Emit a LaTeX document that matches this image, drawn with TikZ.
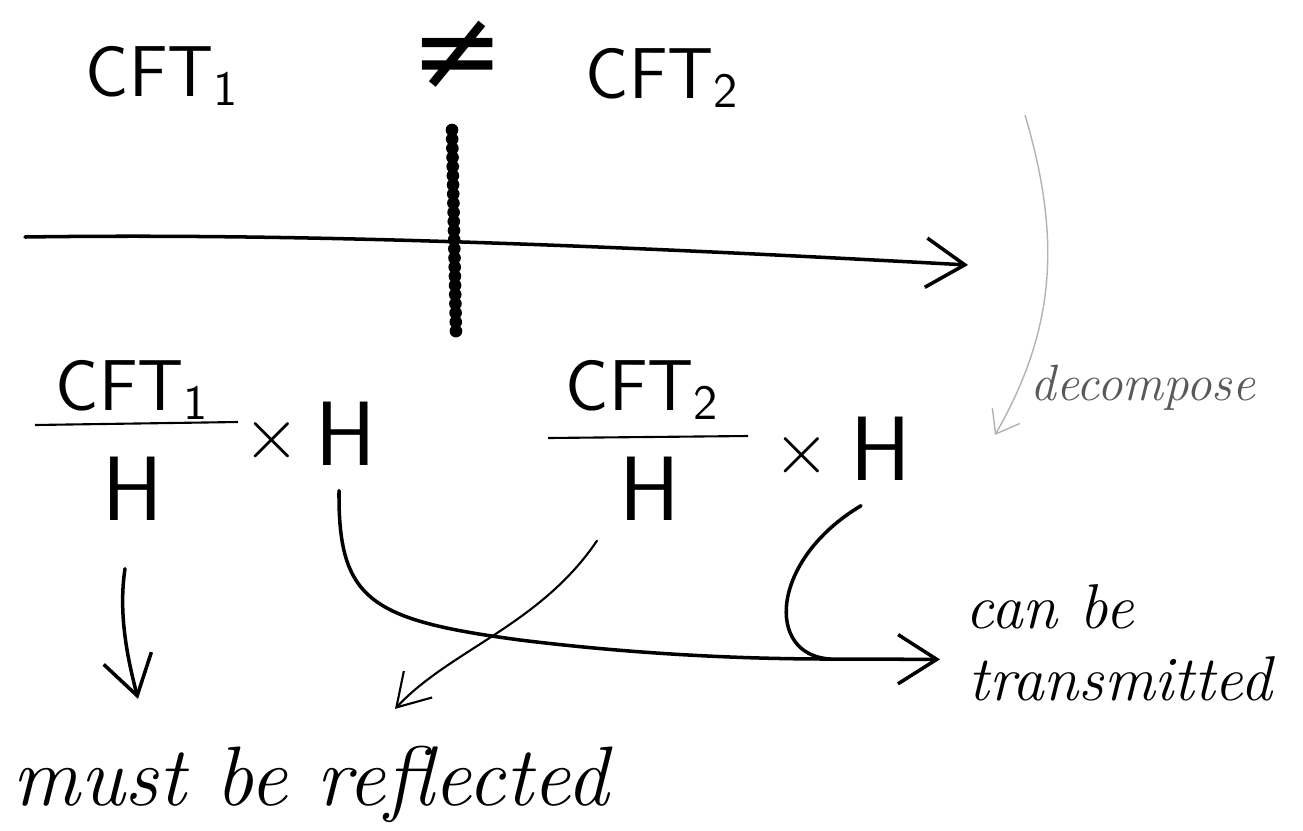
\documentclass[tikz,border=0pt]{standalone}
\usepackage{amsmath}
\usepackage{amssymb}
\usepackage{fontspec}
\usepackage[dvipsnames]{xcolor}
\usetikzlibrary{arrows.meta}

\newfontfamily\symfont{DejaVu Sans}
\newcommand{\cft}[1]{CFT\raisebox{-0.3ex}{\fontsize{14}{14}\selectfont #1}}

\begin{document}
\begin{tikzpicture}[x=0.01cm, y=-0.01cm,
        caps/.style={inner sep=0pt, font=\sffamily\fontsize{20.5}{24}\selectfont},
        bigH/.style={inner sep=0pt, font=\sffamily\fontsize{26}{30}\selectfont},
        hand/.style={inner sep=0pt, font=\itshape\fontsize{22}{26}\selectfont},
        pen/.style={line width=1pt, line cap=round},
        tip/.style={-{Straight Barb[length=11pt, width=14pt, line width=1pt]}}]
    \useasboundingbox (0, 0) rectangle (1303, 830);

    % top line: the two theories and the wall
    \node[caps, anchor=base west] (cft1) at (85, 96) {\cft{1}};
    \node[inner sep=0pt, font=\symfont\fontsize{32}{32}\selectfont] (neq) at (458, 55) {≠};
    \node[caps, anchor=base west] (cft2) at (585, 98) {\cft{2}};
    \draw[line width=3.6pt, line cap=round, dash pattern=on 0pt off 2.6pt] (452, 130) -- (456, 333);
    \draw[pen, tip] (25, 237) .. controls (300, 233) and (600, 245) .. (968, 265);

    \node[hand, font=\itshape\fontsize{14.5}{16}\selectfont, text=black!65, anchor=base west] (dec) at (1030, 400) {decompose};
    \draw[gray!60, thin, -{Straight Barb[length=6pt, width=9pt]}] (1025, 115) .. controls (1062, 240) and (1055, 330) .. (995, 435);

    % quotients times H
    \node[caps, anchor=base west] (num1) at (55, 410) {\cft{1}};
    \draw[semithick] (35, 425) -- (238, 422);
    \node[bigH, anchor=base] (den1) at (133, 520) {H};
    \node[inner sep=0pt, font=\fontsize{22}{22}\selectfont] (x1) at (272, 440) {$\times$};
    \node[bigH, anchor=base west] (h1) at (315, 465) {H};

    \node[caps, anchor=base west] (num2) at (565, 410) {\cft{2}};
    \draw[semithick] (548, 438) -- (748, 436);
    \node[bigH, anchor=base] (den2) at (650, 520) {H};
    \node[inner sep=0pt, font=\fontsize{22}{22}\selectfont] (x2) at (802, 455) {$\times$};
    \node[bigH, anchor=base west] (h2) at (850, 480) {H};

    % outcomes
    \node[hand, font=\itshape\fontsize{24}{28}\selectfont, anchor=base west] (refl) at (12, 805) {must be reflected};
    \node[hand, font=\itshape\fontsize{18}{20}\selectfont, anchor=base west] (canbe) at (965, 628) {can be};
    \node[hand, font=\itshape\fontsize{18}{20}\selectfont, anchor=base west] (trans) at (968, 700) {transmitted};

    \coordinate (merge) at (830, 659);
    \draw[pen, tip] ([shift={(-8,48)}]den1.south) .. controls (118, 615) and (128, 660) .. ([shift={(126,-46)}]refl.north west);
    \draw[pen, -{Straight Barb[length=9pt, width=11pt, line width=0.6pt]}, line width=0.6pt] ([shift={(-53,20)}]den2.south) .. controls (540, 625) and (450, 650) .. ([shift={(383,-36)}]refl.north west);
    \draw[pen, tip] ([shift={(-7,25)}]h1.south) .. controls (338, 600) and (370, 620) .. (520, 640) .. controls (650, 656) and (760, 659) .. (merge) -- ([shift={(-28,4)}]trans.north west);
    \draw[pen] ([shift={(-20,25)}]h2.south) .. controls (770, 560) and (765, 655) .. (merge);
\end{tikzpicture}
\end{document}
